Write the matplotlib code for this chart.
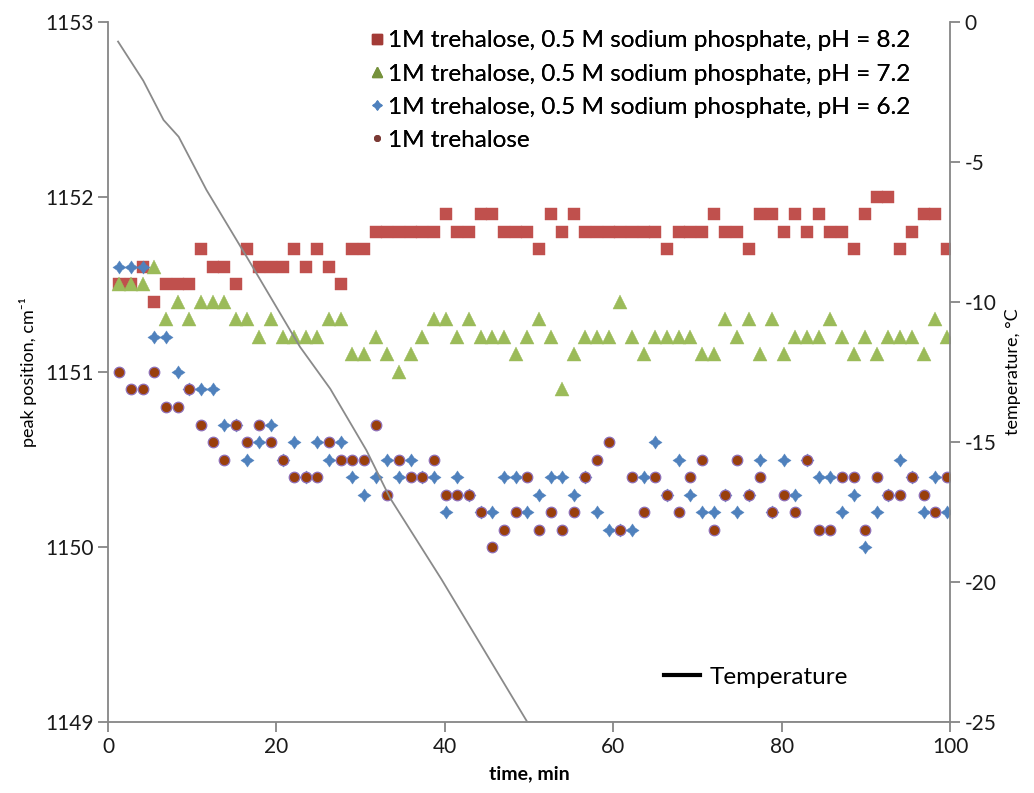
import numpy as np
import matplotlib.pyplot as plt
from matplotlib.lines import Line2D
from matplotlib.path import Path

plt.rcParams['font.family'] = ['Lato', 'DejaVu Sans']
plt.rcParams['axes.unicode_minus'] = False

# sampling times, min
time_min = [1.35, 2.73, 4.12, 5.50, 6.89, 8.27, 9.65, 11.04, 12.42, 13.81,
            15.19, 16.57, 17.96, 19.34, 20.73, 22.11, 23.49, 24.88, 26.26, 27.65,
            29.03, 30.41, 31.80, 33.18, 34.57, 35.95, 37.33, 38.72, 40.10, 41.49,
            42.87, 44.25, 45.64, 47.02, 48.41, 49.79, 51.17, 52.56, 53.94, 55.33,
            56.71, 58.09, 59.48, 60.86, 62.25, 63.63, 65.01, 66.40, 67.78, 69.17,
            70.55, 71.93, 73.32, 74.70, 76.09, 77.47, 78.85, 80.24, 81.62, 83.01,
            84.39, 85.77, 87.16, 88.54, 89.93, 91.31, 92.69, 94.08, 95.46, 96.85,
            98.23, 99.61]

# peak positions, cm-1
ph82 = [1151.5, 1151.5, 1151.6, 1151.4, 1151.5, 1151.5, 1151.5, 1151.7, 1151.6, 1151.6,
        1151.5, 1151.7, 1151.6, 1151.6, 1151.6, 1151.7, 1151.6, 1151.7, 1151.6, 1151.5,
        1151.7, 1151.7, 1151.8, 1151.8, 1151.8, 1151.8, 1151.8, 1151.8, 1151.9, 1151.8,
        1151.8, 1151.9, 1151.9, 1151.8, 1151.8, 1151.8, 1151.7, 1151.9, 1151.8, 1151.9,
        1151.8, 1151.8, 1151.8, 1151.8, 1151.8, 1151.8, 1151.8, 1151.7, 1151.8, 1151.8,
        1151.8, 1151.9, 1151.8, 1151.8, 1151.7, 1151.9, 1151.9, 1151.8, 1151.9, 1151.8,
        1151.9, 1151.8, 1151.8, 1151.7, 1151.9, 1152.0, 1152.0, 1151.7, 1151.8, 1151.9,
        1151.9, 1151.7]

ph72 = [1151.5, 1151.5, 1151.5, 1151.6, 1151.3, 1151.4, 1151.3, 1151.4, 1151.4, 1151.4,
        1151.3, 1151.3, 1151.2, 1151.3, 1151.2, 1151.2, 1151.2, 1151.2, 1151.3, 1151.3,
        1151.1, 1151.1, 1151.2, 1151.1, 1151.0, 1151.1, 1151.2, 1151.3, 1151.3, 1151.2,
        1151.3, 1151.2, 1151.2, 1151.2, 1151.1, 1151.2, 1151.3, 1151.2, 1150.9, 1151.1,
        1151.2, 1151.2, 1151.2, 1151.4, 1151.2, 1151.1, 1151.2, 1151.2, 1151.2, 1151.2,
        1151.1, 1151.1, 1151.3, 1151.2, 1151.3, 1151.1, 1151.3, 1151.1, 1151.2, 1151.2,
        1151.2, 1151.3, 1151.2, 1151.1, 1151.2, 1151.1, 1151.2, 1151.2, 1151.2, 1151.1,
        1151.3, 1151.2]

ph62 = [1151.6, 1151.6, 1151.6, 1151.2, 1151.2, 1151.0, 1150.9, 1150.9, 1150.9, 1150.7,
        1150.7, 1150.5, 1150.6, 1150.7, 1150.5, 1150.6, 1150.4, 1150.6, 1150.5, 1150.6,
        1150.4, 1150.3, 1150.4, 1150.5, 1150.4, 1150.5, 1150.4, 1150.4, 1150.2, 1150.4,
        1150.3, 1150.2, 1150.2, 1150.4, 1150.4, 1150.2, 1150.3, 1150.4, 1150.4, 1150.3,
        1150.4, 1150.2, 1150.1, 1150.1, 1150.1, 1150.4, 1150.6, 1150.3, 1150.5, 1150.3,
        1150.2, 1150.2, 1150.3, 1150.2, 1150.3, 1150.5, 1150.2, 1150.5, 1150.3, 1150.5,
        1150.4, 1150.4, 1150.2, 1150.3, 1150.0, 1150.2, 1150.3, 1150.5, 1150.4, 1150.2,
        1150.4, 1150.2]

treh = [1151.0, 1150.9, 1150.9, 1151.0, 1150.8, 1150.8, 1150.9, 1150.7, 1150.6, 1150.5,
        1150.7, 1150.6, 1150.7, 1150.6, 1150.5, 1150.4, 1150.4, 1150.4, 1150.6, 1150.5,
        1150.5, 1150.5, 1150.7, 1150.3, 1150.5, 1150.4, 1150.4, 1150.5, 1150.3, 1150.3,
        1150.3, 1150.2, 1150.0, 1150.1, 1150.2, 1150.4, 1150.1, 1150.2, 1150.1, 1150.2,
        1150.4, 1150.5, 1150.6, 1150.1, 1150.4, 1150.2, 1150.4, 1150.3, 1150.2, 1150.4,
        1150.5, 1150.1, 1150.3, 1150.5, 1150.3, 1150.4, 1150.2, 1150.3, 1150.2, 1150.5,
        1150.1, 1150.1, 1150.4, 1150.4, 1150.1, 1150.4, 1150.3, 1150.3, 1150.4, 1150.3,
        1150.2, 1150.4]

# temperature trace
temp_time = [1.2, 4.2, 6.6, 8.4, 11.7, 13.9, 16.5, 22.8, 26.4, 30.7, 33.5, 39.6, 49.8, 100]
temp_c = [-0.7, -2.1, -3.5, -4.1, -6.0, -7.1, -8.4, -11.6, -13.1, -15.3, -17.0, -19.9, -25.0, -25.0]

labels = ['1M trehalose, 0.5 M sodium phosphate, pH = 8.2',
          '1M trehalose, 0.5 M sodium phosphate, pH = 7.2',
          '1M trehalose, 0.5 M sodium phosphate, pH = 6.2',
          '1M trehalose']

# diamond with slightly pinched sides
k = 0.40
star4 = Path([(0, 1), (k, k), (1, 0), (k, -k), (0, -1), (-k, -k), (-1, 0), (-k, k), (0, 1)],
             [Path.MOVETO] + [Path.LINETO] * 7 + [Path.CLOSEPOLY])

grey = '#868686'
fig = plt.figure(figsize=(10.34, 7.93), dpi=100)
ax = fig.add_axes([0.1044, 0.0895, 0.8144, 0.8828])
ax2 = ax.twinx()

ax.plot(time_min, ph82, ls='none', marker='s', ms=8.8, color='#C0504D', mec='#C0504D', mew=0.3)
ax.plot(time_min, ph72, ls='none', marker='^', ms=9.5, color='#9BBB59', mec='#9BBB59', mew=0.3)
ax.plot(time_min, ph62, ls='none', marker=star4, ms=9.5, color='#4F81BD', mec='#4F81BD', mew=0.3)
ax.plot(time_min, treh, ls='none', marker='o', ms=7.6, color='#993F0C', mec='#8E6FB8', mew=0.9)

ax2.plot(temp_time, temp_c, color='#8a8a8a', lw=1.3)

ax.set_xlim(0, 100)
ax.set_ylim(1149, 1153)
ax2.set_ylim(-25, 0)
ax.set_xticks([0, 20, 40, 60, 80, 100])
ax.set_yticks([1149, 1150, 1151, 1152, 1153])
ax2.set_yticks([-25, -20, -15, -10, -5, 0])

for a in (ax, ax2):
    a.spines['top'].set_visible(False)
    for s in ('left', 'right', 'bottom'):
        a.spines[s].set_color(grey)
        a.spines[s].set_linewidth(1.3)
    a.tick_params(direction='out', length=7, width=1.3, color=grey, labelsize=15, labelcolor='#1a1a1a')
ax.spines['right'].set_visible(False)
ax2.spines['left'].set_visible(False)
ax2.spines['bottom'].set_visible(False)

ax.set_xlabel('time, min', fontsize=14, fontweight='bold', labelpad=6)
ax.set_ylabel('peak position, cm⁻¹', fontsize=13, labelpad=6)
ax2.set_ylabel('temperature, °C', fontsize=13, labelpad=6)

handles = [
    Line2D([], [], ls='none', marker='s', ms=6.5, color='#A33B37'),
    Line2D([], [], ls='none', marker='^', ms=6.5, color='#76923C'),
    Line2D([], [], ls='none', marker=star4, ms=6.5, color='#4F81BD'),
    Line2D([], [], ls='none', marker='o', ms=4, color='#7B3A35'),
]
leg = ax.legend(handles, labels, loc='upper left', bbox_to_anchor=(0.346, 0.977),
                bbox_transform=fig.transFigure, frameon=False, fontsize=17.5,
                handlelength=0.6, handletextpad=0.15, labelspacing=0.5, borderpad=0)
ax.add_artist(leg)

temp_leg = ax2.legend([Line2D([], [], color='black', lw=3)], ['Temperature'],
                      loc='center left', bbox_to_anchor=(0.630, 0.146),
                      bbox_transform=fig.transFigure, frameon=False, fontsize=17.5,
                      handlelength=1.5, handletextpad=0.4, borderpad=0)

fig.savefig('out.png', dpi=100)
